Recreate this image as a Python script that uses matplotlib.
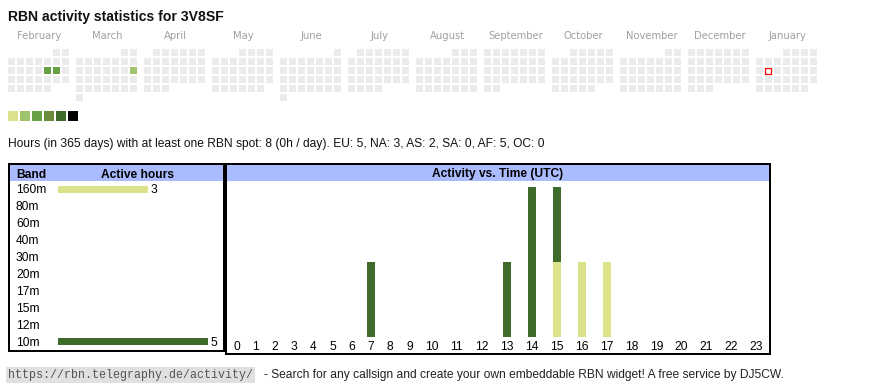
import numpy as np
import pandas as pd
import matplotlib
matplotlib.use('Agg')
import matplotlib.pyplot as plt
import matplotlib.transforms as mtransforms
from matplotlib.patches import Rectangle

plt.rcParams['font.family'] = ['Liberation Sans', 'DejaVu Sans']

# ---- data ----
callsign = '3V8SF'
first_month = '2025-02'
last_month = '2026-01'
today = '2026-01-13'

active_days = ['2025-02-14', '2025-02-15', '2025-03-16']
active_levels = [3, 3, 2]
level_colors = ['#dbe289', '#a0c46b', '#68a044', '#6b8a3c', '#3d6b2a', '#000000']

bands = ['160m', '80m', '60m', '40m', '30m', '20m', '17m', '15m', '12m', '10m']
band_hours = [3, 0, 0, 0, 0, 0, 0, 0, 0, 5]
band_colors = ['#dbe289', '#b5d37a', '#8fbf5a', '#6aa046', '#5a8a3a',
               '#4f7d33', '#466f30', '#40692c', '#3c652a', '#3d6b2a']

hours = list(range(24))
hours_160m = [0, 0, 0, 0, 0, 0, 0, 0, 0, 0, 0, 0, 0, 0, 0, 1, 1, 1, 0, 0, 0, 0, 0, 0]
hours_10m = [0, 0, 0, 0, 0, 0, 0, 1, 0, 0, 0, 0, 0, 1, 2, 1, 0, 0, 0, 0, 0, 0, 0, 0]

continents = ['EU', 'NA', 'AS', 'SA', 'AF', 'OC']
continent_counts = [5, 3, 2, 0, 5, 0]

W, H = 870, 390


def fs(px):
    # css px -> points at 100 dpi
    return px * 0.72


def px_axes(fig, x0, y0, x1, y1):
    return fig.add_axes([x0 / W, 1 - y1 / H, (x1 - x0) / W, (y1 - y0) / H])


fig = plt.figure(figsize=(W / 100, H / 100), dpi=100)
ax = fig.add_axes([0, 0, 1, 1])
ax.set_xlim(0, W)
ax.set_ylim(H, 0)
ax.axis('off')

ax.text(8, 20.7, 'RBN activity statistics for ' + callsign, fontsize=fs(14),
        fontweight='bold', va='baseline', color='#111111')

# ---- calendar ----
CELL, PITCH, MONTH_W, CAL_X, CAL_Y = 7, 9, 68, 8, 49
level_of = dict(zip(pd.to_datetime(active_days), active_levels))
today_ts = pd.Timestamp(today)
months = pd.period_range(first_month, last_month, freq='M')
for m, per in enumerate(months):
    start = per.start_time
    x0 = CAL_X + m * MONTH_W
    ax.text(x0 + 7 * PITCH / 2, 39.3, per.strftime('%B'), ha='center',
            va='baseline', fontsize=fs(10), color='#a0a0a0', family='DejaVu Sans')
    for d in pd.date_range(start, per.end_time.normalize()):
        row, col = divmod(start.weekday() + d.day - 1, 7)
        color = level_colors[level_of[d] - 1] if d in level_of else '#ebebeb'
        if d == today_ts:
            ax.add_patch(Rectangle((x0 + col * PITCH + 0.5, CAL_Y + row * PITCH + 0.5),
                                   CELL - 1, CELL - 1, fc='white', ec='#ff0000', lw=0.9))
        else:
            ax.add_patch(Rectangle((x0 + col * PITCH, CAL_Y + row * PITCH),
                                   CELL, CELL, fc=color, lw=0))

# legend squares
for i, c in enumerate(level_colors):
    ax.add_patch(Rectangle((8 + i * 12, 111), 10, 10, fc=c, lw=0))

total = sum(band_hours)
cont = ', '.join(f'{c}: {n}' for c, n in zip(continents, continent_counts))
ax.text(8, 147, f'Hours (in 365 days) with at least one RBN spot: {total} '
        f'({total // 365}h / day). {cont}', fontsize=fs(12), va='baseline',
        color='#111111')

# ---- boxes and headers ----
HEAD = '#aabbff'
ax.add_patch(Rectangle((10, 165), 213, 15.7, fc=HEAD, lw=0))
ax.add_patch(Rectangle((227, 165), 542, 15.7, fc=HEAD, lw=0))
ax.add_patch(Rectangle((9, 164.2), 215, 187, fc='none', ec='black', lw=2 * 0.72))
ax.add_patch(Rectangle((226, 164.2), 544, 189.8, fc='none', ec='black', lw=2 * 0.72))
ax.text(16, 177.5, 'Band', fontsize=fs(12), fontweight='bold', va='baseline')
ax.text(138, 177.5, 'Active hours', fontsize=fs(12), fontweight='bold',
        va='baseline', ha='center')
ax.text(498, 177.5, 'Activity vs. Time (UTC)', fontsize=fs(12), fontweight='bold',
        va='baseline', ha='center')

# ---- band table ----
ax_b = px_axes(fig, 58, 180.8, 223, 350.2)
ax_b.set_xlim(0, 165 / 30)
ax_b.set_ylim(len(bands) - 0.5, -0.5)
ax_b.axis('off')
yb = np.arange(len(bands))
ax_b.barh(yb, band_hours, height=0.41, color=band_colors)
lab_tr = mtransforms.blended_transform_factory(ax.transData, ax_b.transData)
for i, (b, v) in enumerate(zip(bands, band_hours)):
    ax.text(16, i + 0.06, b, transform=lab_tr, fontsize=fs(12), va='center')
    if v > 0:
        ax_b.text(v + 0.1, i + 0.06, str(v), fontsize=fs(12), va='center')

# ---- activity vs time ----
col_w = np.array([13.4 + 5.8 * len(str(h)) for h in hours])
centers = np.cumsum(col_w) - col_w / 2
ax_h = px_axes(fig, 227.1, 180.7, 227.1 + col_w.sum(), 336.7)
ax_h.set_xlim(0, col_w.sum())
ax_h.set_ylim(0, 2 * 156 / 150)
ax_h.axis('off')
ax_h.bar(centers, hours_160m, width=8, color=band_colors[0])
ax_h.bar(centers, hours_10m, width=8, bottom=hours_160m, color=band_colors[-1])
hr_tr = mtransforms.blended_transform_factory(ax_h.transData, ax.transData)
for c, h in zip(centers, hours):
    ax.text(c, 350, str(h), transform=hr_tr, ha='center', va='baseline',
            fontsize=fs(12))

# ---- footer ----
ax.text(8, 378, 'https://rbn.telegraphy.de/activity/', family='Liberation Mono',
        fontsize=fs(11.6), va='baseline', color='#555555',
        bbox=dict(boxstyle='square,pad=0.15', fc='#e0e0e0', ec='none'))
ax.text(264, 378, '- Search for any callsign and create your own embeddable RBN '
        'widget! A free service by DJ5CW.', fontsize=fs(12), va='baseline',
        color='#222222')

fig.savefig('out.png', dpi=100)
